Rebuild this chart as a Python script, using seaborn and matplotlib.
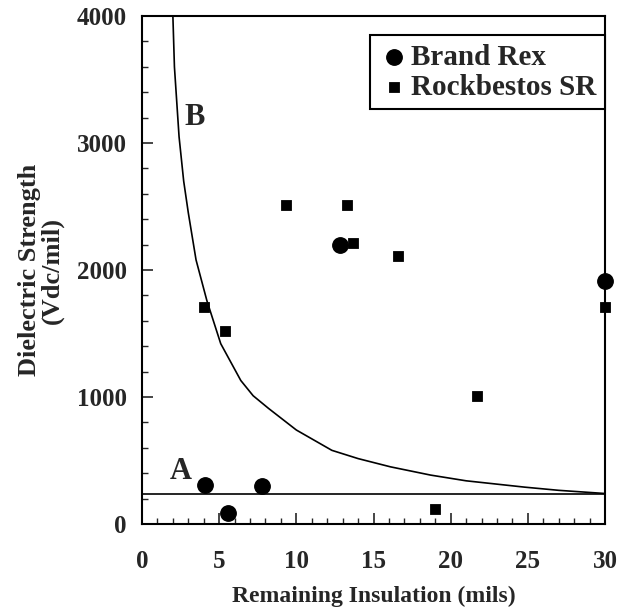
import matplotlib
matplotlib.use("Agg")
import matplotlib.pyplot as plt
import seaborn as sns
from matplotlib.ticker import MultipleLocator

# data
brand_rex_x = [4.1, 5.6, 7.8, 12.8, 30.0]
brand_rex_y = [310, 90, 300, 2200, 1910]

rockbestos_x = [4.0, 5.4, 9.3, 13.3, 13.7, 16.6, 19.0, 21.7, 30.0]
rockbestos_y = [1710, 1520, 2510, 2510, 2210, 2110, 120, 1010, 1710]

# curve B
curve_b_x = [2.0, 2.1, 2.4, 2.7, 3.0, 3.5, 4.2, 5.1, 6.4, 7.2, 8.2, 10.0,
             12.3, 14.0, 16.1, 18.7, 21.0, 24.8, 27.0, 30.0]
curve_b_y = [4000, 3600, 3050, 2700, 2450, 2080, 1760, 1420, 1130, 1010, 910, 740,
             580, 515, 450, 385, 340, 290, 265, 240]

# line A
line_a_x = [0, 30]
line_a_y = [240, 240]

sns.set_style("ticks")
plt.rcParams['font.family'] = ['Liberation Serif', 'DejaVu Serif']
plt.rcParams['font.weight'] = 'bold'
plt.rcParams['axes.labelweight'] = 'bold'

fig = plt.figure(figsize=(6.27, 6.09), dpi=100)
ax = fig.add_axes([0.2265, 0.1396, 0.7385, 0.834])

sns.lineplot(x=curve_b_x, y=curve_b_y, color='black', linewidth=1.2,
             sort=False, estimator=None, ax=ax)
sns.lineplot(x=line_a_x, y=line_a_y, color='black', linewidth=1.2,
             sort=False, estimator=None, ax=ax)

sns.scatterplot(x=brand_rex_x, y=brand_rex_y, marker='o', s=125, color='black',
                edgecolor='black', label='Brand Rex', ax=ax, zorder=5, clip_on=False)
sns.scatterplot(x=rockbestos_x, y=rockbestos_y, marker='s', s=55, color='black',
                edgecolor='black', label='Rockbestos SR', ax=ax, zorder=5, clip_on=False)

ax.text(3.4, 3200, 'B', fontsize=22, fontweight='bold', ha='center', va='center')
ax.text(2.5, 410, 'A', fontsize=22, fontweight='bold', ha='center', va='center')

ax.set_xlim(0, 30)
ax.set_ylim(0, 4000)
ax.xaxis.set_major_locator(MultipleLocator(5))
ax.xaxis.set_minor_locator(MultipleLocator(1))
ax.yaxis.set_major_locator(MultipleLocator(1000))
ax.yaxis.set_minor_locator(MultipleLocator(200))
ax.tick_params(axis='x', which='both', direction='in', pad=19, labelsize=18)
ax.tick_params(axis='y', which='both', direction='in', pad=11, labelsize=18)
ax.tick_params(which='major', length=8, width=1.2)
ax.tick_params(which='minor', length=4, width=1.0)
for sp in ax.spines.values():
    sp.set_visible(True)
    sp.set_linewidth(1.5)
    sp.set_color('black')

ax.set_xlabel('Remaining Insulation (mils)', fontsize=17, labelpad=9)
ax.set_ylabel('Dielectric Strength\n(Vdc/mil)', fontsize=19, labelpad=9,
              linespacing=1.0)

leg = ax.legend(loc='upper right', bbox_to_anchor=(1.0, 0.963), fontsize=21,
                frameon=True, fancybox=False, edgecolor='black',
                handletextpad=0.1, borderpad=0.3, labelspacing=0.1,
                handlelength=1.0, borderaxespad=0)
leg.get_frame().set_linewidth(1.5)
leg.get_frame().set_alpha(1)

fig.savefig('out.png', dpi=100)
